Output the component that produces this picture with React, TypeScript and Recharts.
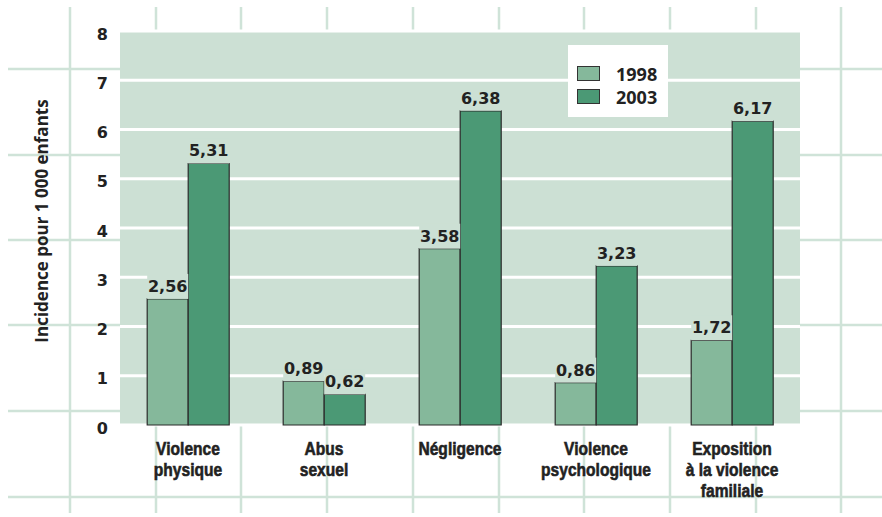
import { BarChart, Bar, XAxis, YAxis, CartesianGrid, Legend, LabelList } from 'recharts';

const categories = [
  'Violence\nphysique',
  'Abus\nsexuel',
  'Négligence',
  'Violence\npsychologique',
  'Exposition\nà la violence\nfamiliale',
];
const values1998 = [2.56, 0.89, 3.58, 0.86, 1.72];
const values2003 = [5.31, 0.62, 6.38, 3.23, 6.17];
const yTicks = [0, 1, 2, 3, 4, 5, 6, 7, 8];

const COLOR_1998 = '#85b89b';
const COLOR_2003 = '#4b9975';
const PLOT_BG = '#cce0d4';
const BG_LINE = '#cfe3d8';

const data = categories.map((name, i) => ({
  name,
  y1998: values1998[i],
  y2003: values2003[i],
}));

const fmt = (v: number) => v.toFixed(2).replace('.', ',');

function ValueLabel(props: any) {
  const { x, y, width, value } = props;
  return (
    <g>
      <rect x={x} y={y - 25} width={width} height={25} fill={PLOT_BG} />
      <text
        x={x + width / 2}
        y={y - 7}
        textAnchor="middle"
        fontFamily="'DejaVu Sans', sans-serif"
        fontWeight="bold"
        fontSize={16}
        fill="#222"
      >
        {fmt(value)}
      </text>
    </g>
  );
}

// reference uses a condensed heavy face; squeeze Liberation Sans Bold horizontally
function CategoryTick(props: any) {
  const { x, y, payload } = props;
  const lines = String(payload.value).split('\n');
  return (
    <g transform={`translate(${x}, 0) scale(0.82, 1)`}>
      <text
        x={0}
        y={y}
        textAnchor="middle"
        fontFamily="'Liberation Sans', Arial, sans-serif"
        fontWeight="bold"
        fontSize={19}
        fill="#222"
        stroke="#222"
        strokeWidth={0.6}
      >
        {lines.map((l, i) => (
          <tspan key={i} x={0} y={y + 22 + i * 21}>
            {l}
          </tspan>
        ))}
      </text>
    </g>
  );
}

function ValueTick(props: any) {
  const { x, y, payload } = props;
  return (
    <text x={x} y={y + 3} dy="0.355em" textAnchor="end" fontFamily="'DejaVu Sans', sans-serif" fontWeight="bold" fontSize={16} fill="#222">
      {payload.value}
    </text>
  );
}

function LegendBox(props: any) {
  const { payload } = props;
  return (
    <div style={{ background: '#fff', width: 100, height: 72, boxSizing: 'border-box', paddingTop: 17, paddingLeft: 9 }}>
      {payload.map((p: any) => (
        <div key={p.value} style={{ display: 'flex', alignItems: 'center', height: 23 }}>
          <span style={{ display: 'inline-block', width: 21, height: 13, background: p.color, border: '1px solid #333' }} />
          <span style={{ marginLeft: 16, fontFamily: "'Open Sans', sans-serif", fontWeight: 700, fontSize: 18, color: '#222' }}>
            {p.value}
          </span>
        </div>
      ))}
    </div>
  );
}

const bgH = [69, 155, 240, 325, 411, 497];
const bgV = [70, 156, 241, 327, 413, 499, 584, 670, 756, 841];

export default function App() {
  return (
    <div style={{ position: 'absolute', left: 0, top: 0, width: 882, height: 517, background: '#fff' }}>
      <svg width={882} height={517} style={{ position: 'absolute', left: 0, top: 0 }}>
        {bgH.map((y) => (
          <line key={'h' + y} x1={8} x2={882} y1={y} y2={y} stroke={BG_LINE} strokeWidth={2.5} />
        ))}
        {bgV.map((x) => (
          <line key={'v' + x} x1={x} x2={x} y1={7} y2={513} stroke={BG_LINE} strokeWidth={2.5} />
        ))}
      </svg>
      <div style={{ position: 'absolute', left: 0, top: 0 }}>
        <BarChart
          width={882}
          height={517}
          data={data}
          margin={{ top: 31, right: 82, left: 0, bottom: 32 }}
          barCategoryGap="20%"
          barGap={0}
        >
          <CartesianGrid vertical={false} stroke="#fff" strokeWidth={3} fill={PLOT_BG} fillOpacity={1} />
          <XAxis
            dataKey="name"
            height={60}
            axisLine={false}
            tickLine={false}
            tick={<CategoryTick />}
            interval={0}
          />
          <YAxis
            width={120}
            domain={[0, 8]}
            ticks={yTicks}
            axisLine={false}
            tickLine={false}
            tickMargin={6}
            tick={<ValueTick />}
            label={{
              content: (p: any) => {
                const vb = p.viewBox;
                const cx = 41;
                const cy = vb.y + vb.height / 2 - 7;
                return (
                  <text
                    x={cx}
                    y={cy}
                    transform={`rotate(-90, ${cx}, ${cy})`}
                    textAnchor="middle"
                    dominantBaseline="central"
                    fontFamily="'Open Sans', sans-serif"
                    fontWeight={700}
                    fontSize={17}
                    fill="#222"
                  >
                    Incidence pour 1 000 enfants
                  </text>
                );
              },
            }}
          />
          <Legend
            layout="horizontal"
            verticalAlign="middle"
            align="center"
            content={<LegendBox />}
            wrapperStyle={{ position: 'absolute', left: 568, top: 45, width: 100, height: 72 }}
          />
          <Bar dataKey="y1998" name="1998" fill={COLOR_1998} stroke="#2b2b2b" strokeWidth={1.2} isAnimationActive={false}>
            <LabelList dataKey="y1998" content={<ValueLabel />} />
          </Bar>
          <Bar dataKey="y2003" name="2003" fill={COLOR_2003} stroke="#2b2b2b" strokeWidth={1.2} isAnimationActive={false}>
            <LabelList dataKey="y2003" content={<ValueLabel />} />
          </Bar>
        </BarChart>
      </div>
    </div>
  );
}
